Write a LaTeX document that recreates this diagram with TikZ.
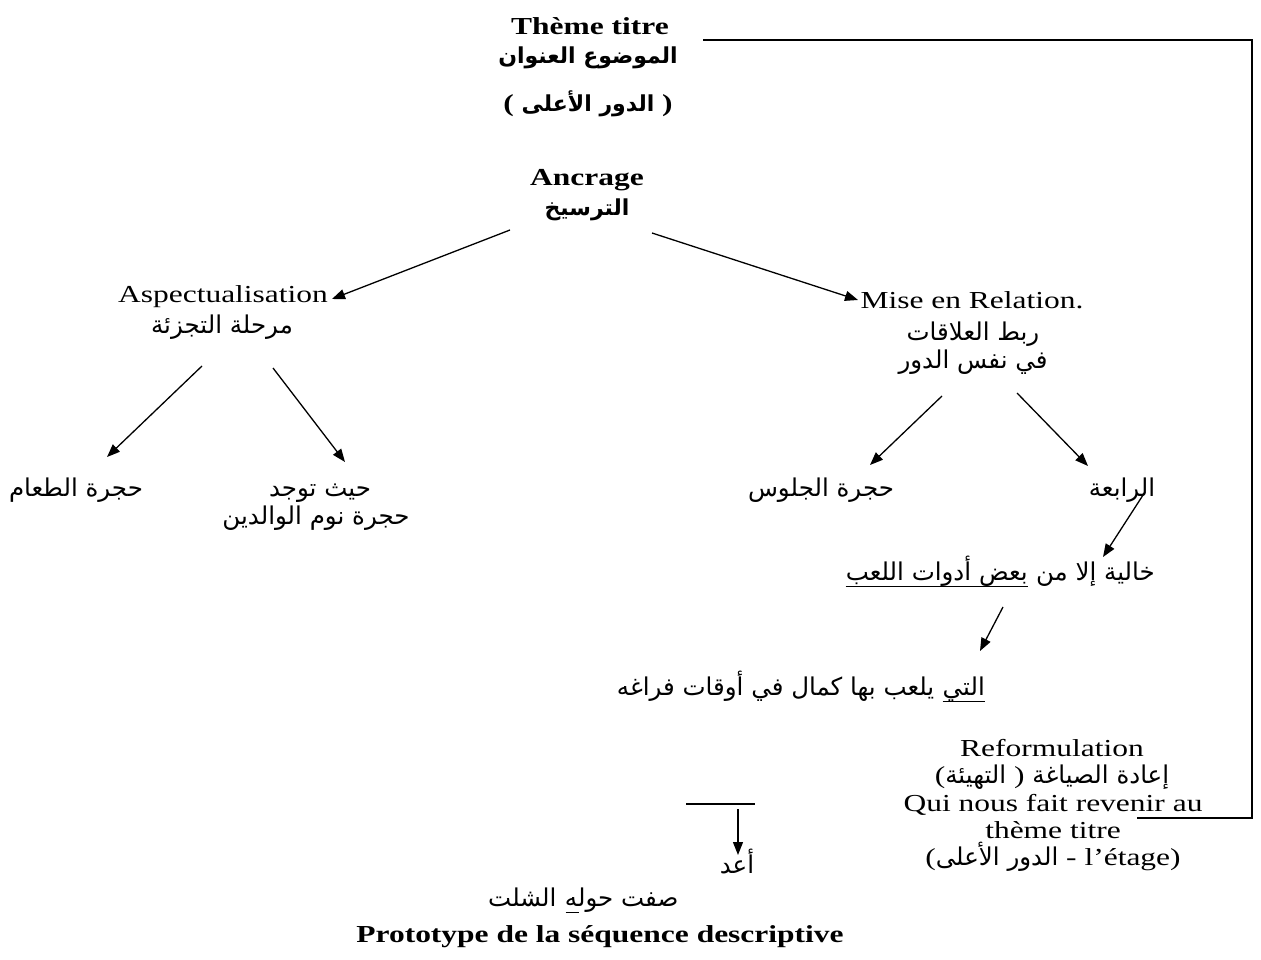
\documentclass[tikz,border=0pt]{standalone}
\usepackage{fontspec}
\usetikzlibrary{arrows.meta}
\TeXXeTstate=1
\setmainfont{Liberation Serif}[FakeStretch=1.29]
\newfontfamily\arabicfont[Script=Arabic]{DejaVu Sans}
% Arabic runs, regular and bold
\newcommand\AR[1]{{\arabicfont\fontsize{24.5}{27}\selectfont\beginR #1\endR}}
\newcommand\ARB[1]{{\arabicfont\bfseries\fontsize{22}{30}\selectfont\beginR #1\endR}}
\tikzset{
  txt/.style={inner sep=0pt, anchor=base, font=\fontsize{24.4}{27}\selectfont},
  ttl/.style={inner sep=0pt, anchor=base, font=\bfseries\fontsize{24.4}{27}\selectfont},
  arr/.style={line width=1.3pt, -{Triangle[length=13pt,width=10pt]}},
  rule/.style={line width=1.3pt},
  uline/.style={line width=1pt}
}
\begin{document}
\begin{tikzpicture}[x=1pt,y=-1pt]
\useasboundingbox (0,0) rectangle (1261,960);

% title block
\node[ttl] (theme)   at (590,35)  {Thème titre};
\node[ttl] (mawdu)   at (588,64)  {\ARB{الموضوع العنوان}};
\node[ttl] (dawr)    at (588,112) {\beginL( \ARB{الدور الأعلى} )\endL};
\node[ttl] (ancrage) at (587,186) {Ancrage};
\node[ttl] (tarsikh) at (587,215) {\ARB{الترسيخ}};

% left branch
\node[txt] (aspect)  at (223,302) {Aspectualisation};
\node[txt] (marhala) at (222,333) {\AR{مرحلة التجزئة}};
\node[txt] (taam)    at (76,496)  {\AR{حجرة الطعام}};
\node[txt] (haythu)  at (320,496) {\AR{حيث توجد}};
\node[txt] (nawm)    at (316,524) {\AR{حجرة نوم الوالدين}};

% right branch
\node[txt] (mise)    at (972,308) {Mise en Relation.};
\node[txt] (rabt)    at (973,340) {\AR{ربط العلاقات}};
\node[txt] (nafs)    at (973,368) {\AR{في نفس الدور}};
\node[txt] (julus)   at (821,496) {\AR{حجرة الجلوس}};
\node[txt] (rabia)   at (1122,496) {\AR{الرابعة}};
\node[txt, anchor=base east] (khaliya) at (1155,580) {\AR{خالية إلا من}};
\node[txt, anchor=base east] (adawat)  at ([xshift=-8pt]khaliya.base west) {\AR{بعض أدوات اللعب}};
\draw[uline] ([yshift=-6pt]adawat.base west) -- ([yshift=-6pt]adawat.base east);
\node[txt, anchor=base east] (allati)  at (985,695) {\AR{التي}};
\node[txt, anchor=base east] (yalab)   at ([xshift=-8pt]allati.base west) {\AR{يلعب بها كمال في أوقات فراغه}};
\draw[uline] ([yshift=-6pt]allati.base west) -- ([yshift=-6pt]allati.base east);

% reformulation block
\node[txt] (reform) at (1052,756) {Reformulation};
\node[txt] (iada)   at (1052,783) {\beginL(\AR{التهيئة}\ ) \AR{إعادة الصياغة}\endL};
\node[txt] (qui)    at (1053,811) {Qui nous fait revenir au};
\node[txt] (theme2) at (1053,838) {thème titre};
\node[txt] (etage)  at (1053,865) {(\AR{الدور الأعلى} - l’étage)};

% bottom
\node[txt] (aid) at (737,873) {\AR{أعد}};
\node[txt, anchor=base west] (shalt) at (488,906) {\AR{الشلت}};
\node[txt, anchor=base west] (sift)  at ([xshift=8pt]shalt.base east) {\AR{صفت حوله}};
\draw[uline] ([xshift=1pt,yshift=-6pt]sift.base west) -- ([xshift=14pt,yshift=-6pt]sift.base west);
\node[ttl] (proto) at (600,942) {Prototype de la séquence descriptive};

% arrow end points
\coordinate (a1s) at (510,230);  \coordinate (a1e) at (332,299);
\coordinate (a2s) at (652,233);  \coordinate (a2e) at (858,300);
\coordinate (a3s) at (202,366);  \coordinate (a3e) at (107,457);
\coordinate (a4s) at (273,368);  \coordinate (a4e) at (345,462);
\coordinate (a5s) at (942,396);  \coordinate (a5e) at (870,465);
\coordinate (a6s) at (1017,393); \coordinate (a6e) at (1088,466);
\coordinate (a7s) at (1145,492); \coordinate (a7e) at (1103,557);
\coordinate (a8s) at (1003,607); \coordinate (a8e) at (980,651);
\coordinate (a9s) at (738,809);  \coordinate (a9e) at (738,855);
\coordinate (bar1) at (686,804); \coordinate (bar2) at (755,804);
\coordinate (fb1) at (703,40);   \coordinate (fb2) at (1252,818);
\coordinate (fb3) at (1137,818);

\draw[arr] (a1s) -- (a1e);
\draw[arr] (a2s) -- (a2e);
\draw[arr] (a3s) -- (a3e);
\draw[arr] (a4s) -- (a4e);
\draw[arr] (a5s) -- (a5e);
\draw[arr] (a6s) -- (a6e);
\draw[arr] (a7s) -- (a7e);
\draw[arr] (a8s) -- (a8e);
\draw[arr] (a9s) -- (a9e);
\draw[rule] (bar1) -- (bar2);
% return line to the title
\draw[rule] (fb1) -| (fb2) -- (fb3);
\end{tikzpicture}
\end{document}
